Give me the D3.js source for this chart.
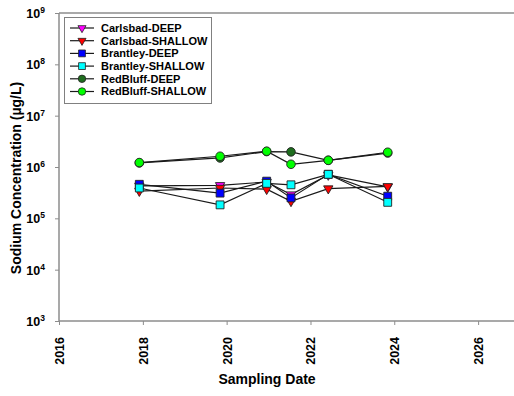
<!DOCTYPE html>
<html>
<head>
<meta charset="utf-8">
<script src="https://cdn.jsdelivr.net/npm/d3@7"></script>
<style>
  html, body { margin: 0; padding: 0; background: #fff; }
  svg { display: block; font-family: Arial, "Liberation Sans", sans-serif; }
</style>
</head>
<body>
<svg id="chart" width="514" height="396"></svg>
<script>
// Sampling dates shared by every well series
const sampleDates = ["2017-12-01", "2019-11-05", "2020-12-15", "2021-07-15", "2022-06-05", "2023-11-05"];

// Sodium concentration (µg/L) per well series
const carlsbadDeep    = [4.3e5, 4.4e5, 5.1e5, 2.9e5, 7.0e5, 4.1e5];
const carlsbadShallow = [3.4e5, 3.9e5, 3.7e5, 2.15e5, 3.8e5, 4.2e5];
const brantleyDeep    = [4.6e5, 3.1e5, 5.3e5, 2.5e5, 7.2e5, 2.7e5];
const brantleyShallow = [3.9e5, 1.83e5, 4.8e5, 4.5e5, 7.2e5, 2.05e5];
const redBluffDeep    = [1.2e6, 1.5e6, 2.0e6, 1.97e6, 1.35e6, 1.87e6];
const redBluffShallow = [1.22e6, 1.62e6, 2.03e6, 1.13e6, 1.35e6, 1.94e6];

const seriesNames = ["Carlsbad-DEEP", "Carlsbad-SHALLOW", "Brantley-DEEP", "Brantley-SHALLOW", "RedBluff-DEEP", "RedBluff-SHALLOW"];
const seriesValues = [carlsbadDeep, carlsbadShallow, brantleyDeep, brantleyShallow, redBluffDeep, redBluffShallow];

// Axis ticks
const yTickValues = [1e3, 1e4, 1e5, 1e6, 1e7, 1e8, 1e9];
const xTickYears = [2016, 2018, 2020, 2022, 2024, 2026];

// Marker styling per series
const seriesStyle = [
  { shape: "triangleDown", fill: "#ff00ff" },
  { shape: "triangleDown", fill: "#ff0000" },
  { shape: "square", fill: "#0000ff" },
  { shape: "square", fill: "#00ffff" },
  { shape: "circle", fill: "#1f6e1f" },
  { shape: "circle", fill: "#00ff00" }
];

const parse = d3.timeParse("%Y-%m-%d");
const series = seriesNames.map((name, i) => ({
  name,
  style: seriesStyle[i],
  points: seriesValues[i].map((v, j) => ({ date: parse(sampleDates[j]), value: v }))
}));

const svg = d3.select("#chart");
const plotLeft = 59, plotRight = 520, plotTop = 13, plotBottom = 321;

const x = d3.scaleTime()
  .domain([new Date(2016, 0, 1), new Date(2027, 0, 1)])
  .range([plotLeft, plotRight]);
const y = d3.scaleLog()
  .domain([1e3, 1e9])
  .range([plotBottom, plotTop]);

const axisColor = "#8c8c8c";

// Top frame line
svg.append("line")
  .attr("x1", plotLeft).attr("x2", 514)
  .attr("y1", plotTop).attr("y2", plotTop)
  .attr("stroke", axisColor).attr("stroke-width", 1.5);

// X axis
const xAxis = svg.append("g")
  .attr("transform", `translate(0,${plotBottom})`)
  .call(d3.axisBottom(x)
    .tickValues(xTickYears.map(yr => new Date(yr, 0, 1)))
    .tickSize(4)
    .tickFormat(d3.timeFormat("%Y")));
xAxis.select(".domain").attr("stroke", axisColor).attr("stroke-width", 1.5)
  .attr("d", `M${plotLeft},0H514`);
xAxis.selectAll(".tick line").attr("stroke", axisColor).attr("stroke-width", 1);
xAxis.selectAll(".tick text")
  .attr("font-size", 12.5).attr("font-weight", "bold").attr("fill", "#000")
  .attr("transform", "rotate(-90)")
  .attr("text-anchor", "end")
  .attr("x", -16).attr("y", 0).attr("dy", "0.35em");

// Y axis
const yAxis = svg.append("g")
  .attr("transform", `translate(${plotLeft},0)`)
  .call(d3.axisLeft(y).tickValues(yTickValues).tickSize(4).tickFormat(() => ""));
yAxis.select(".domain").attr("stroke", axisColor).attr("stroke-width", 1.5)
  .attr("d", `M0,${plotTop}V${plotBottom}`);
yAxis.selectAll(".tick line").attr("stroke", axisColor).attr("stroke-width", 1);
yAxis.selectAll(".tick").each(function(d) {
  const t = d3.select(this).append("text")
    .attr("x", -14).attr("y", 4.5)
    .attr("text-anchor", "end")
    .attr("font-size", 12.5).attr("font-weight", "bold").attr("fill", "#000");
  t.append("tspan").text("10");
  t.append("tspan").attr("font-size", 8.5).attr("dy", -5).text(Math.round(Math.log10(d)));
});

// Axis titles
svg.append("text")
  .attr("transform", `translate(21,178) rotate(-90)`)
  .attr("text-anchor", "middle")
  .attr("font-size", 14).attr("font-weight", "bold")
  .text("Sodium Concentration (µg/L)");
svg.append("text")
  .attr("x", 267).attr("y", 384)
  .attr("text-anchor", "middle")
  .attr("font-size", 14).attr("font-weight", "bold")
  .text("Sampling Date");

// Marker drawing helper
function markerPath(shape, scale) {
  if (shape === "circle") return d3.symbol().type(d3.symbolCircle).size(58 * scale)();
  if (shape === "square") return d3.symbol().type(d3.symbolSquare).size(62 * scale)();
  return d3.symbol().type(d3.symbolTriangle).size(38 * scale)();
}
function markerTransform(shape, px, py) {
  return shape === "triangleDown" ? `translate(${px},${py}) rotate(180)` : `translate(${px},${py})`;
}

const line = d3.line().x(d => x(d.date)).y(d => y(d.value));

const plot = svg.append("g");
series.forEach(s => {
  const g = plot.append("g");
  g.append("path")
    .datum(s.points)
    .attr("d", line)
    .attr("fill", "none")
    .attr("stroke", "#1a1a1a")
    .attr("stroke-width", 1.2);
  g.selectAll("path.marker")
    .data(s.points)
    .join("path")
    .attr("class", "marker")
    .attr("d", markerPath(s.style.shape, 1))
    .attr("transform", d => markerTransform(s.style.shape, x(d.date), y(d.value)))
    .attr("fill", s.style.fill)
    .attr("stroke", "#222")
    .attr("stroke-width", 0.9);
});

// Legend
const legend = svg.append("g");
legend.append("rect")
  .attr("x", 64.5).attr("y", 17.5).attr("width", 147).attr("height", 86)
  .attr("fill", "#fff").attr("stroke", "#808080").attr("stroke-width", 1);
series.forEach((s, i) => {
  const ly = 28 + i * 12.7;
  legend.append("line")
    .attr("x1", 70).attr("x2", 94).attr("y1", ly).attr("y2", ly)
    .attr("stroke", "#1a1a1a").attr("stroke-width", 1.2);
  legend.append("path")
    .attr("d", markerPath(s.style.shape, 0.75))
    .attr("transform", markerTransform(s.style.shape, 82, ly))
    .attr("fill", s.style.fill)
    .attr("stroke", "#222").attr("stroke-width", 0.8);
  legend.append("text")
    .attr("x", 101).attr("y", ly).attr("dy", "0.36em")
    .attr("font-size", 11).attr("font-weight", "bold")
    .text(s.name);
});
</script>
</body>
</html>
